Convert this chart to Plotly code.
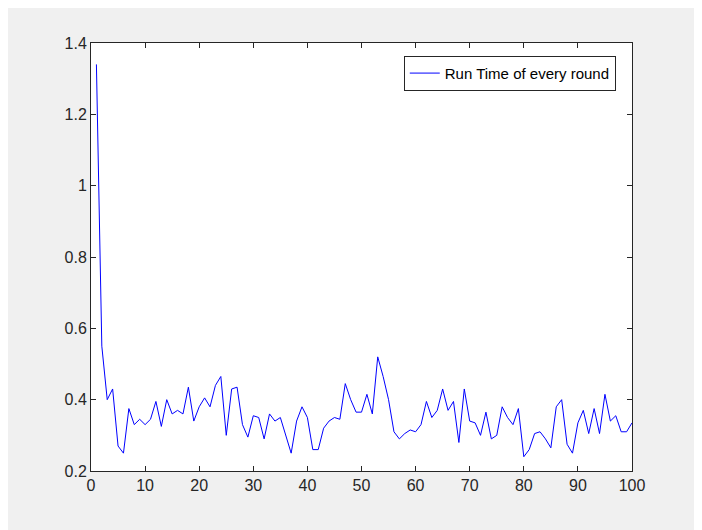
import plotly.graph_objects as go

rounds = list(range(1, 101))
run_time = [1.34, 0.55, 0.40, 0.43, 0.27, 0.25, 0.375, 0.33, 0.345, 0.33,
            0.345, 0.395, 0.325, 0.40, 0.36, 0.37, 0.36, 0.435, 0.34, 0.38,
            0.405, 0.38, 0.44, 0.465, 0.30, 0.43, 0.435, 0.33, 0.295, 0.355,
            0.35, 0.29, 0.36, 0.34, 0.35, 0.30, 0.25, 0.34, 0.38, 0.35,
            0.26, 0.26, 0.32, 0.34, 0.35, 0.345, 0.445, 0.40, 0.365, 0.365,
            0.415, 0.36, 0.52, 0.465, 0.40, 0.31, 0.29, 0.305, 0.315, 0.31,
            0.33, 0.395, 0.35, 0.37, 0.43, 0.37, 0.395, 0.28, 0.43, 0.34,
            0.335, 0.30, 0.365, 0.29, 0.30, 0.38, 0.35, 0.33, 0.375, 0.24,
            0.26, 0.305, 0.31, 0.29, 0.265, 0.38, 0.40, 0.275, 0.25, 0.335,
            0.37, 0.305, 0.375, 0.305, 0.415, 0.34, 0.355, 0.31, 0.31, 0.335]

fig = go.Figure(go.Scatter(x=rounds, y=run_time, mode='lines',
                           line=dict(color='#0000ff', width=1),
                           name='Run Time of every round'))

axis = dict(showgrid=False, zeroline=False, mirror='ticks', ticks='inside',
            ticklen=5, linecolor='#262626', tickcolor='#262626', showline=True,
            linewidth=1, tickfont=dict(family='Liberation Sans, Arial', size=16, color='#262626'))

fig.update_layout(
    width=702, height=530,
    margin=dict(l=83, r=78, t=35, b=67),
    paper_bgcolor='#f0f0f0', plot_bgcolor='white',
    xaxis=dict(axis, range=[0, 100], tickvals=list(range(0, 101, 10))),
    yaxis=dict(axis, range=[0.2, 1.4], tickvals=[0.2, 0.4, 0.6, 0.8, 1.0, 1.2, 1.4],
               ticktext=['0.2', '0.4', '0.6', '0.8', '1', '1.2', '1.4']),
    showlegend=True,
    legend=dict(x=0.97, y=0.97, xanchor='right', yanchor='top',
                bgcolor='white', bordercolor='#262626', borderwidth=1,
                font=dict(family='Liberation Sans, Arial', size=15, color='black')),
)

fig.write_html("out.html")
